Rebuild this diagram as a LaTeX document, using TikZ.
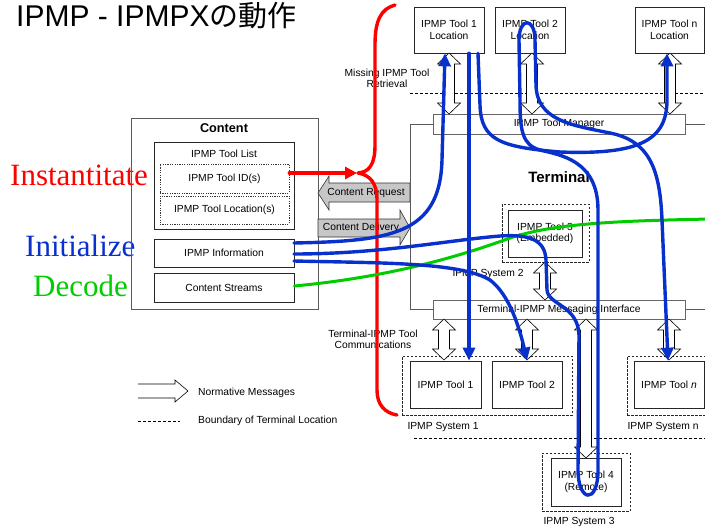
\documentclass[tikz,border=0pt]{standalone}
\usepackage{fontspec}
\setmainfont{Liberation Sans}
\newfontfamily\seriffam{Liberation Serif}
\newfontfamily\cjk{Noto Sans CJK JP}
\usetikzlibrary{arrows.meta}

\definecolor{flowred}{RGB}{255,0,0}
\definecolor{flowblue}{RGB}{8,48,204}
\definecolor{flowgreen}{RGB}{0,204,0}

% vertical two-headed message arrow: centre x, top y, bottom y
\newcommand\vmsg[3]{%
  \draw[msgarrow] (#1,#2) -- ({#1+11.5},{#2+11}) -- ({#1+5.5},{#2+11})
    -- ({#1+5.5},{#3-11}) -- ({#1+11.5},{#3-11}) -- (#1,#3)
    -- ({#1-11.5},{#3-11}) -- ({#1-5.5},{#3-11}) -- ({#1-5.5},{#2+11})
    -- ({#1-11.5},{#2+11}) -- cycle;}

\begin{document}
\begin{tikzpicture}[x=1pt,y=-1pt,
  every node/.style={font=\fontsize{10.3}{11.5}\selectfont, inner sep=0pt, align=center},
  box/.style={draw=black!85, line width=0.7pt, fill=white},
  outline/.style={draw=black!65, line width=0.8pt},
  dotbox/.style={draw=black!80, line width=0.6pt, dash pattern=on 1.2pt off 1.2pt},
  dashbox/.style={draw=black!85, line width=0.6pt, dash pattern=on 2.5pt off 1.5pt},
  bar/.style={draw=black!60, line width=0.7pt, fill=white},
  msgarrow/.style={draw=black, line width=0.6pt, fill=white, line join=miter},
  grayarrow/.style={draw=black!80, line width=0.6pt, fill=black!22},
  boundary/.style={line width=0.6pt, dash pattern=on 3pt off 2pt},
  flow/.style={line width=3.4pt, line cap=round, line join=round},
  bluetip/.style={-{Triangle[length=13pt,width=12pt]}},
  bigword/.style={font=\seriffam\fontsize{31}{31}\selectfont, anchor=base west}]

\useasboundingbox (0,0) rectangle (705,530);
\clip (0,0) rectangle (705,530);

% title
\node[anchor=base west, font=\fontsize{30}{30}\selectfont] (title) at (16,27) {IPMP - IPMPX{\cjk\fontsize{29}{29}\selectfont の動作}};

% stage words
\node[bigword, text=flowred] (wInst) at (10,185) {Instantitate};
\node[bigword, text=flowblue] (wInit) at (25,256) {Initialize};
\node[bigword, text=flowgreen] (wDec) at (33,296) {Decode};

% content side
\node[outline, minimum width=187, minimum height=191] (content) at (224.5,213.5) {};
\node[font=\bfseries\fontsize{12.7}{14}\selectfont] (contentlbl) at (224,128) {Content};
\node[box, minimum width=140, minimum height=87] (toollist) at (224,185.5) {};
\node (toollistlbl) at (224,154) {IPMP Tool List};
\node[dotbox, minimum width=129, minimum height=29] (ids) at (224.5,178.5) {IPMP Tool ID(s)};
\node[dotbox, minimum width=129, minimum height=28] (locs) at (224.5,210) {IPMP Tool Location(s)};
\node[box, minimum width=140, minimum height=28] (info) at (224,253) {IPMP Information};
\node[box, minimum width=140, minimum height=29] (streams) at (224,287.5) {Content Streams};

% content request / delivery
\draw[grayarrow] (318,193) -- (329,176) -- (329,183) -- (410,183) -- (410,202) -- (329,202) -- (329,210) -- cycle;
\node (creq) at (366,192.5) {Content Request};
\draw[grayarrow] (318,219) -- (400,219) -- (400,210) -- (410,228) -- (400,245) -- (400,237) -- (318,237) -- cycle;
\node (cdel) at (361,228) {Content Delivery};

% terminal
\draw[outline] (433,124) -- (410,124) -- (410,309) -- (433,309);
\draw[outline] (685,124) -- (712,124);
\draw[outline] (685,309) -- (712,309);
\node[bar, minimum width=252, minimum height=20] (manager) at (559,124) {IPMP Tool Manager};
\node[bar, minimum width=252, minimum height=19] (msgif) at (559,309.5) {Terminal-IPMP Messaging Interface};
\node[font=\bfseries\fontsize{15}{17}\selectfont] (termlbl) at (559,177) {Terminal};
\node[dashbox, minimum width=87, minimum height=58] (sys2) at (545.5,233) {};
\node[box, minimum width=74, minimum height=47] (tool3) at (545,233.5) {IPMP Tool 3\\(Embedded)};
\node (sys2lbl) at (488,274) {IPMP System 2};
\vmsg{545}{262}{300}

% tool locations
\node[box, minimum width=70, minimum height=46] (loc1) at (449,30) {IPMP Tool 1\\Location};
\node[box, minimum width=70, minimum height=46] (loc2) at (530,30) {IPMP Tool 2\\Location};
\node[box, minimum width=69, minimum height=46] (locn) at (669.5,30) {IPMP Tool n\\Location};
\node (missing) at (387,78.5) {Missing IPMP Tool\\Retrieval};
\draw[boundary] (410,93) -- (712,93);
\vmsg{449}{53}{114}
\vmsg{532}{53}{114}
\vmsg{670}{53}{114}

% tools
\node[dashbox, minimum width=170, minimum height=59] (sys1) at (487,385.5) {};
\node[box, minimum width=71, minimum height=47] (tool1) at (445.5,384.5) {IPMP Tool 1};
\node[box, minimum width=70, minimum height=47] (tool2) at (527,384.5) {IPMP Tool 2};
\node (sys1lbl) at (443,427) {IPMP System 1};
\node[dashbox, minimum width=88, minimum height=59] (sysn) at (671,385.5) {};
\node[box, minimum width=70, minimum height=47] (tooln) at (669,384.5) {IPMP Tool \textit{n}};
\node (sysnlbl) at (663,427) {IPMP System n};
\draw[boundary] (414,438) -- (712,438);
\node[dashbox, minimum width=88, minimum height=58] (sys3) at (586,482) {};
\node[box, minimum width=70, minimum height=48] (tool4) at (586,482) {IPMP Tool 4\\(Remote)};
\node (sys3lbl) at (579,522) {IPMP System 3};
\node (commlbl) at (373,339.5) {Terminal-IPMP Tool\\Communications};
\vmsg{444}{319}{360}
\vmsg{527}{319}{360}
\vmsg{669}{319}{360}
\vmsg{586}{319}{458}

% legend
\draw[msgarrow, fill=none] (138,384) -- (175,384) -- (175,380) -- (188,391) -- (175,402) -- (175,398) -- (138,398);
\node[anchor=west] (legmsg) at (198,393) {Normative Messages};
\draw[boundary] (138,421) -- (180,421);
\node[anchor=west] (legbound) at (198,420.5) {Boundary of Terminal Location};

% instantiate flow
\coordinate (cusp) at (358,173);
\draw[flow, draw=flowred] (395,5) .. controls (381,9) and (375,20) .. (375,45) -- (375,145)
  .. controls (375,165) and (369,172) .. (cusp)
  .. controls (370,175) and (377,183) .. (377,200) -- (377,390)
  .. controls (377,405) and (385,413) .. (397,415);
\draw[flow, draw=flowred, -{Triangle[length=12pt,width=12pt]}] (ids.east |- cusp) -- ([xshift=-1pt]cusp);

% decode flow
\draw[flow, draw=flowgreen, line width=3pt] (streams.east |- 0,286) .. controls (380,278) and (450,260) .. (510,238)
  .. controls (550,225) and (600,221) .. (712,219);

% initialise flows
\coordinate (i1) at (294,243);
\coordinate (i2) at (294,254);
\coordinate (i3) at (294,261);
\draw[flow, draw=flowblue, bluetip] (i1) .. controls (390,241) and (440,235) .. (442,160) -- (loc1.south -| 445,0);
\draw[flow, draw=flowblue, bluetip] (loc1.south -| 469,0) -- (tool1.north -| 469,0);
\draw[flow, draw=flowblue, bluetip] (loc1.south -| 478,0) -- (480,105)
  .. controls (481,140) and (500,147) .. (560,152)
  .. controls (640,155) and (667,140) .. (667,100) -- (locn.south -| 667,0);
\draw[flow, draw=flowblue, bluetip] (i3) .. controls (380,263) and (460,262) .. (490,280)
  .. controls (510,295) and (520,330) .. (tool2.north);
\draw[flow, draw=flowblue, bluetip] (i2) .. controls (380,254) and (450,240) .. (500,236)
  .. controls (530,234) and (545,240) .. (546,260) -- (547,290)
  .. controls (548,305) and (578,305) .. (579,335) -- (578,470)
  .. controls (578,502) and (598,505) .. (598,470) -- (598,210)
  .. controls (598,160) and (560,155) .. (540,150)
  .. controls (522,145) and (520,130) .. (520,100) -- (519,40)
  .. controls (519,17) and (535,17) .. (535,40) -- (536,85)
  .. controls (537,120) and (570,125) .. (610,133)
  .. controls (650,141) and (660,170) .. (662,220) -- (tooln.north -| 668,0);

\end{tikzpicture}
\end{document}
